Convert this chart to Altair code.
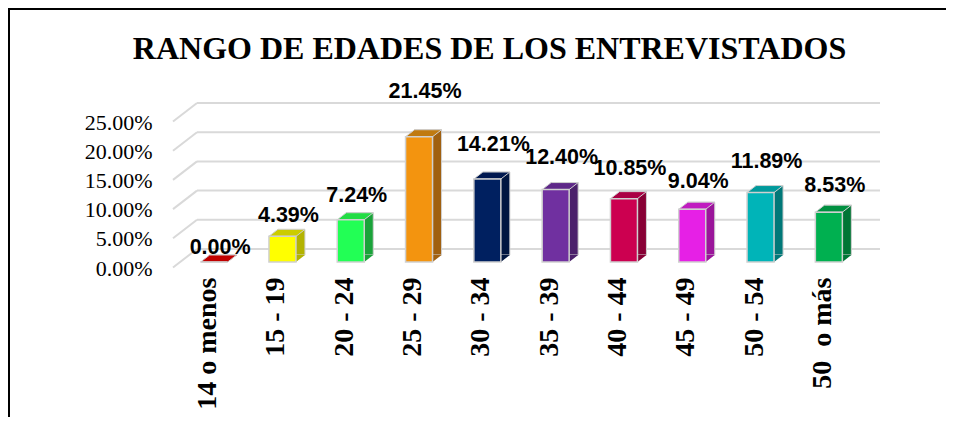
import altair as alt
import pandas as pd

categories = ["14 o menos", "15 - 19", "20 - 24", "25 - 29", "30 - 34",
              "35 - 39", "40 - 44", "45 - 49", "50 - 54", "50\u00a0 o más"]
values = [0.0, 0.0439, 0.0724, 0.2145, 0.1421, 0.1240, 0.1085, 0.0904, 0.1189, 0.0853]
front_colors = ["#C00000", "#FFFF00", "#22FF55", "#F3940F", "#002060",
                "#7030A0", "#CC0050", "#E620E6", "#00B4B8", "#00B050"]
side_colors = ["#900000", "#B3B300", "#1AA33A", "#A06010", "#001540",
               "#4B206B", "#880035", "#9A159A", "#007878", "#007535"]
top_colors = ["#C00000", "#CCCC00", "#22DD44", "#C07A10", "#00184F",
              "#5E2888", "#AA0044", "#C01CC0", "#009A9C", "#009040"]
grid_values = [0.0, 0.05, 0.10, 0.15, 0.20, 0.25]

df = pd.DataFrame({"cat": categories, "v": values, "front": front_colors,
                   "side": side_colors, "top": top_colors})
grid = pd.DataFrame({"g": grid_values})
one = pd.DataFrame({"k": [0]})

W, H = 683, 146
yscale = alt.Scale(domain=[0, 0.25], nice=False)
face_path = "M -1 0 L 1 0 L 1.667 -0.519 L -0.333 -0.519 Z"

x_axis = alt.Axis(title=None, labelAngle=-90, labelFont="Liberation Serif",
                  labelFontSize=28, labelFontWeight="bold", labelColor="black",
                  labelPadding=15, ticks=False, domain=False,
                  grid=False, labelOffset=-6, labelOverlap=False)
x_enc = alt.X("cat:N", sort=categories,
              scale=alt.Scale(paddingInner=0.6, paddingOuter=0.3), axis=x_axis)

back_grid = alt.Chart(grid).mark_rule(color="#d9d9d9", strokeWidth=2, yOffset=-13).encode(
    y=alt.Y("g:Q", scale=yscale, axis=None), x=alt.value(17), x2=alt.value(700))
diag_grid = alt.Chart(grid).mark_rule(color="#d9d9d9", strokeWidth=2, yOffset=5.5, y2Offset=-13).encode(
    y=alt.Y("g:Q", scale=yscale, axis=None), y2=alt.Y2("g:Q"),
    x=alt.value(-7), x2=alt.value(17))

side = alt.Chart(df).mark_bar(size=27, xOffset=9, yOffset=-7, y2Offset=-7,
                              stroke="#d0d0d0", strokeWidth=1).encode(
    x=x_enc, y=alt.Y("v:Q", scale=yscale, axis=None),
    color=alt.Color("side:N", scale=None))
bottom = alt.Chart(df).mark_point(shape=face_path, size=729, filled=True, opacity=1).encode(
    x=x_enc, y=alt.YDatum(0, scale=yscale, axis=None),
    color=alt.Color("side:N", scale=None))
topface = alt.Chart(df).mark_point(shape=face_path, size=729, filled=True, opacity=1,
                                   stroke="#d0d0d0", strokeWidth=1).encode(
    x=x_enc, y=alt.Y("v:Q", scale=yscale, axis=None),
    color=alt.Color("top:N", scale=None))
front = alt.Chart(df).mark_bar(size=27, stroke="#d0d0d0", strokeWidth=1.5).encode(
    x=x_enc,
    y=alt.Y("v:Q", scale=yscale,
            axis=alt.Axis(title=None, values=grid_values, format=".2%",
                          labelFont="Liberation Serif", labelFontSize=22,
                          labelColor="black", labelPadding=28, ticks=False,
                          domain=False, grid=False, labelOffset=6)),
    color=alt.Color("front:N", scale=None))
labels = alt.Chart(df).mark_text(font="Liberation Sans", fontWeight="bold", fontSize=21.5,
                                 dx=6, dy=4, baseline="middle", color="black").encode(
    x=x_enc,
    y=alt.Y("v:Q", scale=alt.Scale(domain=[-0.024, 0.176], nice=False, zero=False), axis=None),
    text=alt.Text("v:Q", format=".2%"))

border_left = alt.Chart(one).mark_rule(color="black", strokeWidth=2).encode(
    x=alt.value(-171), y=alt.value(-108), y2=alt.value(H + 155))
border_top = alt.Chart(one).mark_rule(color="black", strokeWidth=2).encode(
    x=alt.value(-172), x2=alt.value(W + 83), y=alt.value(-107))

chart = alt.layer(back_grid, diag_grid, side, bottom, topface, front, labels,
                  border_left, border_top).resolve_scale(y="independent").properties(
    width=W, height=H,
    title=alt.Title("RANGO DE EDADES DE LOS ENTREVISTADOS", font="Liberation Serif",
                    fontSize=32, fontWeight="bold", color="black", dx=-32, offset=0, dy=59),
    autosize=alt.AutoSizeParams(type="none"),
    padding={"left": 172, "top": 108, "right": 83, "bottom": 155},
    background="white",
).configure_view(stroke=None)

chart.save("out.html", embed_options={"renderer": "svg", "actions": False})
